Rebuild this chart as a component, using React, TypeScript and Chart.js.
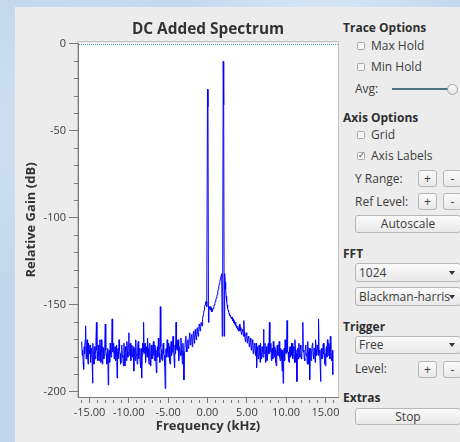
import React, { useEffect, useRef } from 'react';
import { Chart, registerables } from 'chart.js';

Chart.register(...registerables);

const TITLE = 'DC Added Spectrum';
const X_TITLE = 'Frequency (kHz)';
const Y_TITLE = 'Relative Gain (dB)';

// FFT bins: 512 displayed bins, first bin at -16 kHz, 0.0625 kHz per bin
const START_KHZ = -16;
const BIN_KHZ = 0.0625;

const GAIN_DB = [
  -171, -179, -176, -183, -187, -174, -178, -170, -162, -181, -175, -170, -180, -184, -172, -177,
  -178, -173, -183, -175, -176, -181, -195, -172, -179, -184, -174, -178, -181, -171, -160, -176,
  -177, -182, -173, -179, -182, -170, -176, -183, -170, -177, -184, -174, -175, -181, -179, -172,
  -161, -176, -178, -184, -183, -175, -196, -178, -176, -183, -172, -178, -180, -174, -158, -177,
  -177, -172, -181, -176, -174, -182, -179, -173, -192, -177, -175, -181, -170, -176, -178, -184,
  -183, -173, -174, -180, -179, -185, -172, -178, -185, -174, -176, -182, -171, -177, -180, -173,
  -166, -179, -177, -172, -182, -176, -173, -180, -178, -174, -188, -177, -175, -182, -170, -178,
  -179, -184, -174, -171, -181, -175, -176, -183, -186, -175, -192, -179, -172, -177, -160, -178,
  -178, -172, -183, -177, -174, -180, -169, -175, -180, -184, -176, -172, -185, -178, -173, -181,
  -178, -174, -171, -179, -182, -173, -176, -182, -189, -177, -174, -180, -169, -176, -178, -183,
  -151, -174, -176, -181, -182, -175, -172, -178, -179, -185, -198, -176, -175, -180, -170, -177,
  -180, -172, -174, -182, -184, -176, -171, -179, -177, -171, -168, -175, -181, -186, -173, -178,
  -160, -175, -176, -171, -170, -178, -182, -174, -174, -179, -169, -176, -179, -184, -172, -178,
  -193, -177, -175, -170, -168, -174, -177, -171, -170, -175, -174, -168, -166, -173, -172, -168,
  -167, -174, -171, -166, -165, -172, -169, -164, -164, -170, -167, -163, -163, -168, -166, -161,
  -162, -165, -163, -160, -160, -162, -158, -156, -155, -153, -151, -150, -149, -148, -150, -151,
  -26, -36, -160, -153, -151, -152, -151, -153, -152, -154, -153, -152, -152, -151, -150, -149,
  -148, -147, -146, -145, -144, -142, -141, -139, -138, -137, -135, -134, -133, -132, -168, -132,
  -10, -35, -168, -132, -137, -141, -145, -148, -150, -152, -153, -154, -155, -156, -156, -157,
  -157, -158, -157, -159, -158, -160, -159, -161, -160, -162, -161, -163, -162, -164, -163, -165,
  -163, -161, -165, -163, -164, -167, -167, -164, -165, -168, -159, -166, -168, -171, -170, -166,
  -167, -172, -172, -168, -169, -174, -173, -169, -171, -176, -175, -170, -172, -178, -177, -172,
  -173, -177, -179, -172, -186, -176, -174, -181, -180, -173, -176, -183, -172, -178, -181, -174,
  -175, -180, -164, -177, -178, -172, -183, -176, -174, -182, -179, -173, -172, -178, -160, -176,
  -177, -172, -182, -176, -175, -181, -171, -178, -180, -174, -176, -183, -185, -177, -173, -179,
  -179, -174, -171, -180, -182, -175, -176, -181, -188, -176, -195, -178, -175, -182, -170, -177,
  -178, -173, -159, -177, -177, -182, -183, -175, -174, -180, -179, -172, -172, -178, -181, -174,
  -176, -183, -170, -176, -183, -178, -194, -175, -177, -181, -172, -178, -180, -173, -175, -181,
  -178, -174, -160, -177, -176, -181, -182, -175, -173, -179, -178, -184, -171, -177, -184, -175,
  -193, -178, -175, -182, -179, -173, -172, -178, -181, -175, -176, -183, -170, -176, -179, -173,
  -174, -179, -158, -176, -177, -182, -194, -176, -175, -181, -180, -173, -172, -178, -178, -184,
  -185, -176, -174, -180, -170, -177, -179, -172, -175, -181, -168, -176, -182, -178, -176, -190,
];

const X_TICKS = [
  -16, -15, -14, -13, -12, -11, -10, -9, -8, -7, -6, -5, -4, -3, -2, -1, 0,
  1, 2, 3, 4, 5, 6, 7, 8, 9, 10, 11, 12, 13, 14, 15, 16,
];
const X_LABELED = [-15, -10, -5, 0, 5, 10, 15];
const Y_TICKS = [
  0, -10, -20, -30, -40, -50, -60, -70, -80, -90, -100, -110, -120, -130, -140, -150,
  -160, -170, -180, -190, -200,
];
const Y_LABELED = [0, -50, -100, -150, -200];
const REF_LEVEL_DB = 0;

const FONT = "'Open Sans', 'DejaVu Sans', sans-serif";

const framePlugin = {
  id: 'frame',
  beforeDraw(chart: any) {
    const { ctx, chartArea: a } = chart;
    ctx.save();
    ctx.fillStyle = '#ffffff';
    ctx.fillRect(a.left, a.top, a.right - a.left, a.bottom - a.top);
    ctx.strokeStyle = '#c4c4c4';
    ctx.lineWidth = 1;
    ctx.strokeRect(a.left - 0.5, a.top - 1.5, a.right - a.left + 1, a.bottom - a.top + 2);
    ctx.restore();
  },
  afterDatasetsDraw(chart: any) {
    const { ctx, chartArea: a, scales } = chart;
    const y = Math.round(scales.y.getPixelForValue(REF_LEVEL_DB)) + 0.5;
    ctx.save();
    ctx.strokeStyle = '#3aa6a6';
    ctx.lineWidth = 1;
    ctx.setLineDash([1, 1]);
    ctx.beginPath();
    ctx.moveTo(a.left + 1, y);
    ctx.lineTo(a.right, y);
    ctx.stroke();
    ctx.restore();
  },
  afterDraw(chart: any) {
    const { ctx, chartArea: a } = chart;
    ctx.save();
    ctx.font = `bold 15.4px ${FONT}`;
    ctx.fillStyle = '#333333';
    ctx.textAlign = 'center';
    ctx.textBaseline = 'alphabetic';
    ctx.fillText(TITLE, (a.left + a.right) / 2, 27);
    ctx.restore();
  },
};

function SpectrumChart() {
  const ref = useRef<HTMLCanvasElement | null>(null);
  useEffect(() => {
    if (!ref.current) return;
    const points = GAIN_DB.map((g, i) => ({ x: START_KHZ + i * BIN_KHZ, y: g }));
    const chart = new Chart(ref.current, {
      type: 'line',
      data: {
        datasets: [
          {
            data: points,
            borderColor: '#0000ff',
            borderWidth: 1,
            pointRadius: 0,
            tension: 0,
            fill: false,
          },
        ],
      },
      options: {
        responsive: false,
        animation: false,
        devicePixelRatio: 1,
        layout: { padding: { left: 0, right: 2, top: 36, bottom: 0 } },
        plugins: {
          legend: { display: false },
          tooltip: { enabled: false },
          title: { display: false },
        },
        scales: {
          x: {
            type: 'linear',
            min: -16.47,
            max: 16.6,
            afterBuildTicks: (s: any) => {
              s.ticks = X_TICKS.map((v) => ({ value: v }));
            },
            afterFit: (s: any) => {
              s.height = 45;
            },
            ticks: {
              autoSkip: false,
              maxRotation: 0,
              padding: 3,
              color: '#3c3c3c',
              font: { family: FONT, size: 11 },
              callback: (v: any) => (X_LABELED.includes(v) ? Number(v).toFixed(2) : ''),
            },
            grid: {
              drawOnChartArea: false,
              drawTicks: true,
              tickLength: 6,
              color: '#7a7a7a',
              tickBorderDash: (c: any) =>
                c.tick && X_LABELED.includes(c.tick.value) ? [] : [0, 2, 4, 0],
            },
            border: { display: true, color: '#7a7a7a' },
            title: {
              display: true,
              text: X_TITLE,
              color: '#333333',
              font: { family: FONT, size: 13, weight: 'bold' },
              padding: { top: 0, bottom: 8 },
            },
          },
          y: {
            type: 'linear',
            min: -202.9,
            max: 0.57,
            afterBuildTicks: (s: any) => {
              s.ticks = Y_TICKS.map((v) => ({ value: v }));
            },
            afterFit: (s: any) => {
              s.width = 63;
            },
            ticks: {
              autoSkip: false,
              padding: 3,
              color: '#3c3c3c',
              font: { family: FONT, size: 11 },
              callback: (v: any) => (Y_LABELED.includes(v) ? String(v) : ''),
            },
            grid: {
              drawOnChartArea: false,
              drawTicks: true,
              tickLength: 9,
              color: '#7a7a7a',
              tickBorderDash: (c: any) =>
                c.tick && Y_LABELED.includes(c.tick.value) ? [] : [0, 5, 4, 0],
            },
            border: { display: true, color: '#7a7a7a' },
            title: {
              display: true,
              text: Y_TITLE,
              color: '#333333',
              font: { family: FONT, size: 13, weight: 'bold' },
              padding: { top: 8, bottom: 0 },
            },
          },
        },
      } as any,
      plugins: [framePlugin],
    });
    return () => chart.destroy();
  }, []);
  return (
    <canvas
      ref={ref}
      width={325}
      height={435}
      style={{ position: 'absolute', left: 15, top: 7, width: 325, height: 435 }}
    />
  );
}

const txt: React.CSSProperties = {
  position: 'absolute',
  fontFamily: FONT,
  fontSize: 12,
  color: '#3c3c3c',
  whiteSpace: 'nowrap',
  height: 16,
  lineHeight: '16px',
};

function Label({ x, cy, text, bold }: { x: number; cy: number; text: string; bold?: boolean }) {
  return (
    <div style={{ ...txt, left: x, top: cy - 8, fontWeight: bold ? 700 : 400, color: bold ? '#2f2f2f' : '#3c3c3c' }}>
      {text}
    </div>
  );
}

function Check({ cy, text, checked }: { cy: number; text: string; checked?: boolean }) {
  return (
    <>
      <div
        style={{
          position: 'absolute',
          left: 357,
          top: cy - 4,
          width: 8,
          height: 8,
          boxSizing: 'border-box',
          border: '1px solid #a8a8a8',
          borderRadius: 1.5,
          background: '#f7f7f7',
        }}
      />
      {checked ? (
        <div
          style={{
            position: 'absolute',
            left: 357,
            top: cy - 6,
            width: 9,
            height: 11,
            fontSize: 9,
            lineHeight: '11px',
            textAlign: 'center',
            color: '#555',
            fontFamily: "'DejaVu Sans', sans-serif",
          }}
        >
          ✓
        </div>
      ) : null}
      <Label x={371} cy={cy} text={text} />
    </>
  );
}

function Btn({ x, y, w, h, text }: { x: number; y: number; w: number; h: number; text: string }) {
  return (
    <div
      style={{
        position: 'absolute',
        left: x,
        top: y,
        width: w,
        height: h,
        boxSizing: 'border-box',
        border: '1px solid #b7b7b7',
        borderRadius: 3,
        background: 'linear-gradient(#fbfbfb, #e8e8e8)',
        fontFamily: FONT,
        fontSize: 12,
        color: '#3c3c3c',
        textAlign: 'center',
        lineHeight: `${h - 2}px`,
        whiteSpace: 'nowrap',
      }}
    >
      {text}
    </div>
  );
}

function Combo({ y, h, text }: { y: number; h: number; text: string }) {
  return (
    <div
      style={{
        position: 'absolute',
        left: 355,
        top: y,
        width: 106,
        height: h,
        boxSizing: 'border-box',
        border: '1px solid #b7b7b7',
        borderRadius: 3,
        background: 'linear-gradient(#fbfbfb, #e8e8e8)',
      }}
    >
      <div style={{ ...txt, left: 3, top: (h - 2) / 2 - 8 }}>{text}</div>
      <div
        style={{
          position: 'absolute',
          left: 93,
          top: (h - 2) / 2 - 2,
          width: 0,
          height: 0,
          borderLeft: '3.5px solid transparent',
          borderRight: '3.5px solid transparent',
          borderTop: '4px solid #333',
        }}
      />
    </div>
  );
}

function Controls() {
  return (
    <>
      <Label x={343} cy={28} text="Trace Options" bold />
      <Check cy={46} text="Max Hold" />
      <Check cy={67} text="Min Hold" />
      <Label x={355} cy={89} text="Avg:" />
      <div style={{ position: 'absolute', left: 392, top: 88, width: 56, height: 2, background: '#4f7380' }} />
      <div
        style={{
          position: 'absolute',
          left: 446.5,
          top: 83.5,
          width: 11,
          height: 11,
          boxSizing: 'border-box',
          borderRadius: '50%',
          border: '1px solid #a3a3a3',
          background: 'linear-gradient(#fafafa, #e6e6e6)',
        }}
      />
      <Label x={343} cy={118} text="Axis Options" bold />
      <Check cy={135} text="Grid" />
      <Check cy={155.5} text="Axis Labels" checked />
      <Label x={355} cy={179} text="Y Range:" />
      <Btn x={418} y={170} w={19} h={17} text="+" />
      <Btn x={443} y={170} w={19} h={17} text="-" />
      <Label x={355} cy={201.5} text="Ref Level:" />
      <Btn x={418} y={193} w={19} h={17} text="+" />
      <Btn x={443} y={193} w={19} h={17} text="-" />
      <Btn x={355} y={215} w={106} h={18} text="Autoscale" />
      <Label x={343} cy={253.5} text="FFT" bold />
      <Combo y={263} h={19} text="1024" />
      <Combo y={287} h={19} text="Blackman-harris" />
      <Label x={343} cy={327} text="Trigger" bold />
      <Combo y={336} h={18} text="Free" />
      <Label x={355} cy={369} text="Level:" />
      <Btn x={418} y={361} w={19} h={17} text="+" />
      <Btn x={443} y={361} w={19} h={17} text="-" />
      <Label x={343} cy={398} text="Extras" bold />
      <Btn x={355} y={408} w={106} h={17} text="Stop" />
    </>
  );
}

export default function App() {
  return (
    <div
      style={{
        position: 'fixed',
        left: 0,
        top: 0,
        width: 460,
        height: 442,
        overflow: 'hidden',
        background:
          'radial-gradient(circle at 20% 30%, #d6e5f4 0, rgba(214,229,244,0) 35%), radial-gradient(circle at 70% 10%, #dbe8f6 0, rgba(219,232,246,0) 30%), #c3d7ec',
      }}
    >
      <div style={{ position: 'absolute', left: 15, top: 7, right: 0, bottom: 0, background: '#ececec' }} />
      <SpectrumChart />
      <Controls />
    </div>
  );
}
